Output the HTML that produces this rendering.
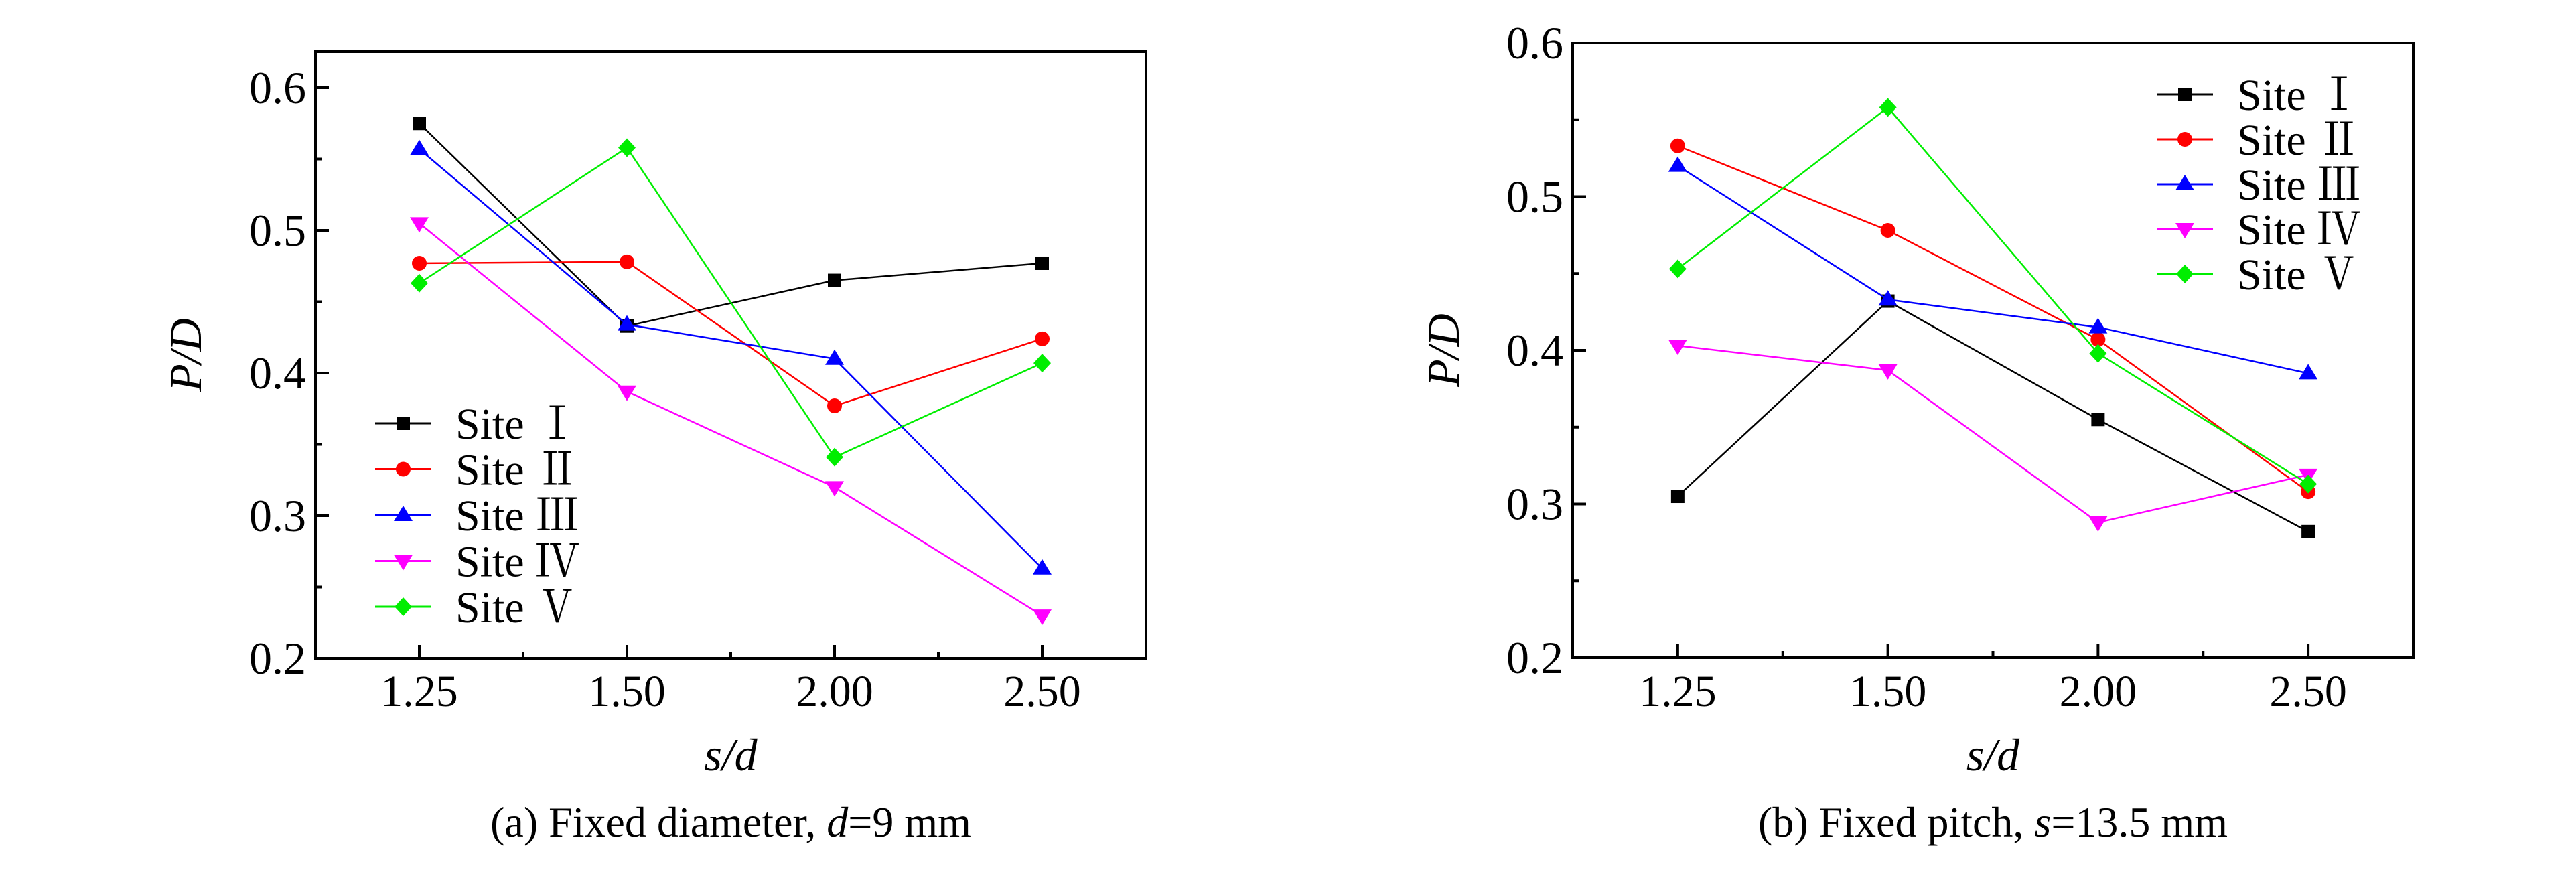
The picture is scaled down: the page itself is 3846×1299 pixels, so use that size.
<!DOCTYPE html>
<html><head><meta charset="utf-8"><style>
html,body{margin:0;padding:0;background:#fff;overflow:hidden;}
svg{display:block;}
text{font-family:"Liberation Serif","Noto Serif CJK SC",serif;fill:#000;}
</style></head><body>
<svg id="svg" width="3846" height="1299" viewBox="0 0 3846 1299" xmlns="http://www.w3.org/2000/svg"></svg>
<script>
const categories = ["1.25","1.50","2.00","2.50"];
const yTicks = [0.2,0.3,0.4,0.5,0.6];
const yTickLabels = ["0.2","0.3","0.4","0.5","0.6"];
const seriesNames = ["Site Ⅰ","Site Ⅱ","Site Ⅲ","Site Ⅳ","Site Ⅴ"];
const seriesColors = ["#000000","#ff0000","#0000ff","#ff00ff","#00ee00"];
const seriesMarkers = ["square","circle","triangle","invtriangle","diamond"];
const aSite1 = [0.575,0.433,0.465,0.477];
const aSite2 = [0.477,0.478,0.377,0.424];
const aSite3 = [0.557,0.434,0.410,0.263];
const aSite4 = [0.505,0.387,0.320,0.230];
const aSite5 = [0.463,0.558,0.341,0.407];
const bSite1 = [0.305,0.432,0.355,0.282];
const bSite2 = [0.533,0.478,0.407,0.308];
const bSite3 = [0.520,0.433,0.415,0.385];
const bSite4 = [0.403,0.387,0.288,0.319];
const bSite5 = [0.453,0.558,0.398,0.313];

const NS="http://www.w3.org/2000/svg";
const svg=document.getElementById('svg');
function mk(tag,attrs,parent){const e=document.createElementNS(NS,tag);for(const k in attrs)e.setAttribute(k,attrs[k]);(parent||svg).appendChild(e);return e;}

function marker(g,type,x,y,c){
  let e;
  if(type==="square"){e=mk('rect',{x:x-10,y:y-10,width:20,height:20,fill:c},g);}
  else if(type==="circle"){e=mk('circle',{cx:x,cy:y,r:11,fill:c},g);}
  else if(type==="triangle"){e=mk('polygon',{points:`${x},${y-14} ${x+14},${y+9} ${x-14},${y+9}`,fill:c},g);}
  else if(type==="invtriangle"){e=mk('polygon',{points:`${x},${y+14} ${x+14},${y-9} ${x-14},${y-9}`,fill:c},g);}
  else {e=mk('polygon',{points:`${x},${y-14} ${x+13},${y} ${x},${y+14} ${x-13},${y}`,fill:c},g);}
  
  
  return e;
}

function drawChart(cfg){
  const g=mk('g',{});
  
  
  const {L,R,T,B,yMin,yMax}=cfg;
  const step=(R-L)/categories.length;
  const xS=i=>L+step*(i+0.5);
  const yS=v=>B-(v-yMin)/(yMax-yMin)*(B-T);
  cfg.series.forEach((vals,si)=>{
    const sg=mk('g',{},g);
    
    
    const pts=vals.map((v,i)=>xS(i)+','+yS(v)).join(' ');
    const pl=mk('polyline',{points:pts,fill:'none',stroke:seriesColors[si],'stroke-width':2.5},sg);
    
    
    vals.forEach((v,i)=>marker(sg,seriesMarkers[si],xS(i),yS(v),seriesColors[si]));
  });
  const fr=mk('rect',{x:L,y:T,width:R-L,height:B-T,fill:'none',stroke:'#000','stroke-width':4},g);
  
  
  yTicks.forEach((v,i)=>{
    const y=yS(v);
    mk('line',{x1:L,x2:L+20,y1:y,y2:y,stroke:'#000','stroke-width':4},g);
    const t=mk('text',{x:L-14,y:y+23,'text-anchor':'end','font-size':68},g);
    t.textContent=yTickLabels[i];
    
    
    if(i<yTicks.length-1){const ym=yS(v+0.05);mk('line',{x1:L,x2:L+10,y1:ym,y2:ym,stroke:'#000','stroke-width':4},g);}
  });
  categories.forEach((c,i)=>{
    const x=xS(i);
    mk('line',{x1:x,x2:x,y1:B,y2:B-20,stroke:'#000','stroke-width':4},g);
    if(i<categories.length-1){const xm=x+step/2;mk('line',{x1:xm,x2:xm,y1:B,y2:B-10,stroke:'#000','stroke-width':4},g);}
    const t=mk('text',{x:x,y:1054,'text-anchor':'middle','font-size':66},g);
    t.textContent=c;
    
    
  });
  const yt=mk('text',{x:0,y:0,'text-anchor':'middle','font-size':68,'font-style':'italic',transform:`translate(${cfg.ylx},${(T+B)/2}) rotate(-90)`},g);
  yt.textContent='P/D';
  
  
  const xt=mk('text',{x:(L+R)/2,y:1150,'text-anchor':'middle','font-size':68,'font-style':'italic'},g);
  xt.textContent='s/d';
  
  
  const cap=mk('text',{x:(L+R)/2,y:1249,'text-anchor':'middle','font-size':64},g);
  cap.innerHTML=cfg.caption;
  
  
  const lg=mk('g',{},g);
  
  
  seriesNames.forEach((n,si)=>{
    const y=cfg.legY+si*cfg.legDy;
    const eg=mk('g',{},lg);
    
    
    mk('line',{x1:cfg.legX,x2:cfg.legX+84,y1:y,y2:y,stroke:seriesColors[si],'stroke-width':3},eg);
    marker(eg,seriesMarkers[si],cfg.legX+42,y,seriesColors[si]);
    const t=mk('text',{x:cfg.legX+120,y:y+23,'font-size':66},eg);
    t.textContent=n;
  });
}

drawChart({name:'chart-a-fixed-diameter',L:471,R:1711,T:77,B:983,yMin:0.2,yMax:0.2+(983-77)/2130,
  series:[aSite1,aSite2,aSite3,aSite4,aSite5],ylx:300,
  caption:'(a) Fixed diameter, <tspan font-style="italic">d</tspan>=9 mm',
  legX:560,legY:632,legDy:68.5});
drawChart({name:'chart-b-fixed-pitch',L:2348,R:3603,T:64,B:982,yMin:0.2,yMax:0.6,
  series:[bSite1,bSite2,bSite3,bSite4,bSite5],ylx:2178,
  caption:'(b) Fixed pitch, <tspan font-style="italic">s</tspan>=13.5 mm',
  legX:3220,legY:141,legDy:67});
</script>
</body></html>
